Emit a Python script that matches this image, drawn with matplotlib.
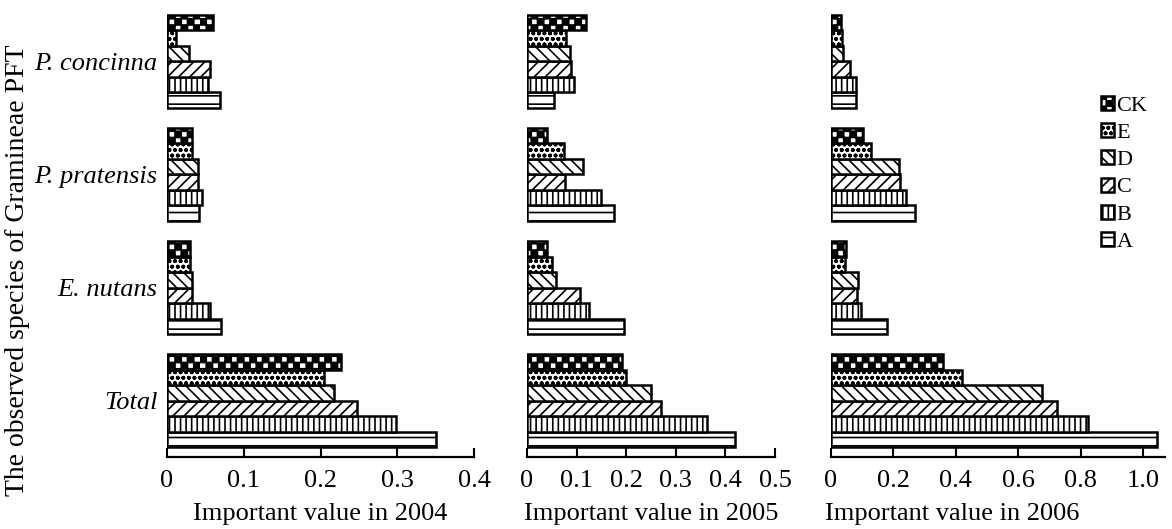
import numpy as np
import matplotlib.pyplot as plt
import matplotlib.hatch as mhatch
from matplotlib.path import Path

plt.rcParams['font.family'] = ['Liberation Serif', 'DejaVu Serif']
plt.rcParams['hatch.linewidth'] = 1.2

# checkerboard hatch, hooked in on the 'O' character
class CheckerHatch(mhatch.HatchPatternBase):
    def __init__(self, hatch, density):
        n = int(round(hatch.count('O') * density * 8 / 3))
        self.n = n - n % 2
        self.num_vertices = 5 * (self.n * self.n // 2)

    def set_vertices_and_codes(self, vertices, codes):
        n = self.n
        s = 1.0 / n
        k = 0
        for i in range(n):
            for j in range(n):
                if (i + j) % 2:
                    continue
                x0, y0 = i * s, j * s
                vertices[k:k + 5] = [(x0, y0), (x0 + s, y0), (x0 + s, y0 + s),
                                     (x0, y0 + s), (x0, y0)]
                codes[k] = Path.MOVETO
                codes[k + 1:k + 4] = Path.LINETO
                codes[k + 4] = Path.CLOSEPOLY
                k += 5

mhatch._hatch_types = [CheckerHatch if t is mhatch.LargeCircles else t
                       for t in mhatch._hatch_types]

species = ['P. concinna', 'P. pratensis', 'E. nutans', 'Total']
treatments = ['A', 'B', 'C', 'D', 'E', 'CK']
years = ['2004', '2005', '2006']

# rows: species, columns: treatments A..CK
iv_2004 = [[0.069, 0.053, 0.056, 0.029, 0.012, 0.060],
           [0.042, 0.046, 0.041, 0.041, 0.033, 0.032],
           [0.070, 0.056, 0.033, 0.033, 0.030, 0.030],
           [0.351, 0.299, 0.248, 0.217, 0.204, 0.227]]
iv_2005 = [[0.054, 0.094, 0.089, 0.087, 0.079, 0.119],
           [0.176, 0.150, 0.076, 0.112, 0.074, 0.040],
           [0.196, 0.125, 0.106, 0.059, 0.050, 0.040],
           [0.419, 0.362, 0.270, 0.251, 0.199, 0.192]]
iv_2006 = [[0.079, 0.080, 0.060, 0.040, 0.036, 0.031],
           [0.270, 0.239, 0.222, 0.217, 0.127, 0.103],
           [0.178, 0.096, 0.082, 0.085, 0.045, 0.048],
           [1.045, 0.823, 0.725, 0.677, 0.420, 0.360]]

xlims = [0.4, 0.5, 1.07]
xticks = [[0, 0.1, 0.2, 0.3, 0.4],
          [0, 0.1, 0.2, 0.3, 0.4, 0.5],
          [0, 0.2, 0.4, 0.6, 0.8, 1.0]]
xticklabels = [['0', '0.1', '0.2', '0.3', '0.4'],
               ['0', '0.1', '0.2', '0.3', '0.4', '0.5'],
               ['0', '0.2', '0.4', '0.6', '0.8', '1.0']]

hatches = ['--', '|||', '///', '\\\\\\', 'ooo', 'O']

fig = plt.figure(figsize=(11.72, 5.29), dpi=100)
W, H = 1172, 529
boxes = [(167, 474), (527, 775), (831, 1165)]
top_px, bot_px = 10, 456.5

group_step = 7.3
n_species = len(species)

axes = []
for k, (x0, x1) in enumerate(boxes):
    ax = fig.add_axes([x0 / W, 1 - bot_px / H, (x1 - x0) / W, (bot_px - top_px) / H])
    axes.append(ax)

for k, (ax, vals) in enumerate(zip(axes, [iv_2004, iv_2005, iv_2006])):
    vals = np.array(vals)
    for g in range(n_species):
        base = (n_species - 1 - g) * group_step
        for t in range(len(treatments)):
            ax.barh(base + t + 0.5, vals[g, t], height=1.0, color='white',
                    edgecolor='black', linewidth=1.8, hatch=hatches[t],
                    label=treatments[t] if g == 0 else None)
    ax.set_xlim(0, xlims[k])
    ax.set_ylim(-0.6, 28.2)
    ax.set_xticks(xticks[k])
    ax.set_xticklabels(xticklabels[k])
    for side in ['top', 'right', 'left']:
        ax.spines[side].set_visible(False)
    ax.spines['bottom'].set_linewidth(1.6)
    ax.tick_params(axis='x', direction='in', length=6.5, width=1.5,
                   labelsize=19, pad=10)
    ax.set_xlabel('Important value in ' + years[k], fontsize=19)
    if k == 0:
        centers = [(n_species - 1 - g) * group_step + 3 for g in range(n_species)]
        ax.set_yticks(centers)
        ax.set_yticklabels(species, fontsize=19, style='italic')
        ax.tick_params(axis='y', length=0, pad=7)
    else:
        ax.set_yticks([])

# third label sits left of the axis centre
axes[2].xaxis.set_label_coords((952 - 831) / (1165 - 831), -0.105)
axes[0].xaxis.set_label_coords(0.5, -0.105)
axes[1].xaxis.set_label_coords(0.5, -0.105)

handles, labels = axes[2].get_legend_handles_labels()
fig.legend(handles[::-1], labels[::-1], loc='upper left',
           bbox_to_anchor=(1092 / W, 1 - 87 / H), frameon=False,
           fontsize=16, handlelength=0.6, handleheight=0.6,
           handletextpad=0.1, labelspacing=0.33, borderaxespad=0)

fig.text(18 / W, 0.49, 'The observed species of Gramineae PFT', rotation=90,
         ha='center', va='center', fontsize=20)

fig.savefig('out.png', dpi=100)
